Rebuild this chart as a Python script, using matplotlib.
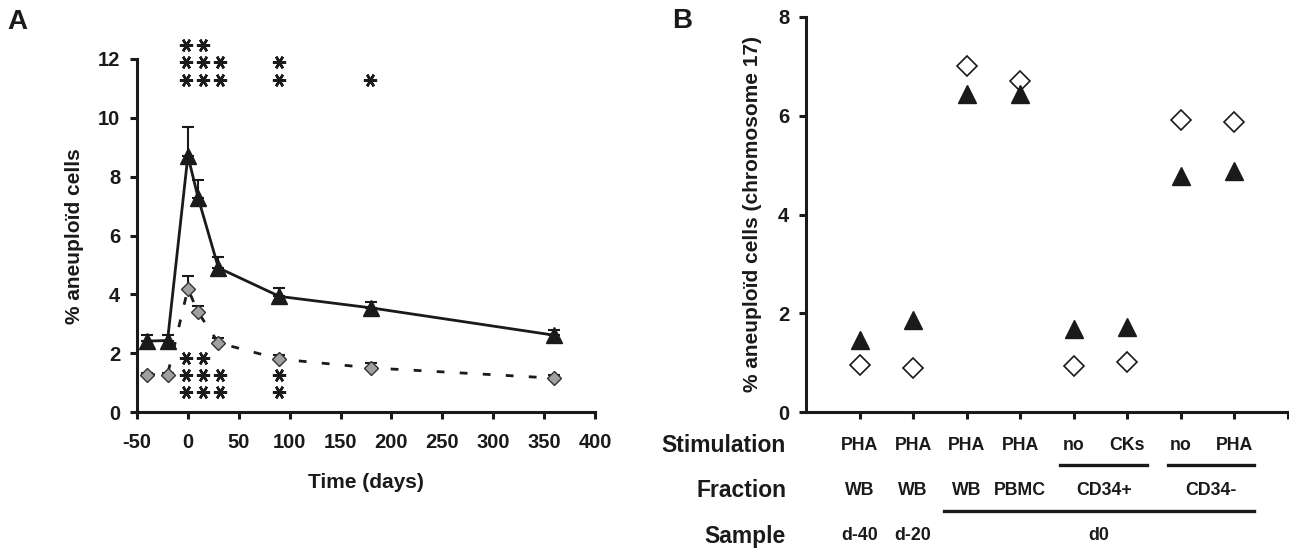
import matplotlib
matplotlib.use('Agg')
import matplotlib.pyplot as plt
import matplotlib.transforms as mtransforms

plt.rcParams['font.family'] = ['Liberation Sans', 'DejaVu Sans']
plt.rcParams['font.weight'] = 'bold'
plt.rcParams['axes.unicode_minus'] = False

# ---- panel A data ----
days = [-40, -20, 0, 10, 30, 90, 180, 360]
tri_a = [2.41, 2.43, 8.71, 7.29, 4.90, 3.93, 3.54, 2.61]
tri_a_err = [0.20, 0.20, 0.98, 0.59, 0.36, 0.29, 0.19, 0.18]
dia_a = [1.27, 1.27, 4.19, 3.39, 2.35, 1.80, 1.50, 1.15]
dia_a_err = [0.05, 0.05, 0.45, 0.21, 0.17, 0.15, 0.15, 0.10]

# significance stars: one list of x positions per row
stars_top_y = [12.48, 11.90, 11.29]
stars_top_x = [[-2, 15], [-2, 15, 31.5, 90], [-2, 15, 31.5, 90, 179]]
stars_bot_y = [1.84, 1.27, 0.68]
stars_bot_x = [[-2, 15], [-2, 15, 31.5, 90], [-2, 15, 31.5, 90]]

# ---- panel B data ----
cats = [1, 2, 3, 4, 5, 6, 7, 8]
tri_b = [1.46, 1.86, 6.45, 6.45, 1.69, 1.72, 4.78, 4.89]
dia_b = [0.96, 0.90, 7.00, 6.70, 0.94, 1.01, 5.92, 5.87]
stim_labels = ['PHA', 'PHA', 'PHA', 'PHA', 'no', 'CKs', 'no', 'PHA']
fraction_single = [(1, 'WB'), (2, 'WB'), (3, 'WB'), (4, 'PBMC')]
fraction_groups = [(5, 6, 'CD34+'), (7, 8, 'CD34-')]
sample_single = [(1, 'd-40'), (2, 'd-20')]
sample_groups = [(3, 8, 'd0')]

W, H = 1289, 548
INK = '#1a1a1a'
fig = plt.figure(figsize=(W / 100, H / 100), dpi=100)


def style_axes(ax):
    for s in ['top', 'right']:
        ax.spines[s].set_visible(False)
    for s in ['left', 'bottom']:
        ax.spines[s].set_linewidth(2.2)
        ax.spines[s].set_color(INK)
    ax.tick_params(width=2.2, length=5, color=INK, labelsize=14.5,
                   labelcolor=INK)


# ---------------- A ----------------
axA = fig.add_axes([137 / W, 1 - 412 / H, (595 - 137) / W, (412 - 59) / H])
style_axes(axA)
axA.tick_params(axis='y', pad=7)
axA.tick_params(axis='x', pad=10)

axA.errorbar(days, tri_a, yerr=[[0] * len(days), tri_a_err], fmt='none',
             ecolor=INK, elinewidth=1.5, capsize=4.3, capthick=1.5, zorder=2)
axA.errorbar(days, dia_a, yerr=[[0] * len(days), dia_a_err], fmt='none',
             ecolor=INK, elinewidth=1.5, capsize=4.3, capthick=1.5, zorder=2)
axA.plot(days, tri_a, color=INK, lw=2, marker='^', markersize=11,
         markerfacecolor=INK, markeredgecolor=INK, zorder=3)
axA.plot(days, dia_a, color=INK, lw=2, dashes=(2.8, 5.5), marker='D',
         markersize=7, markerfacecolor='#a0a0a0', markeredgecolor='#333333',
         markeredgewidth=1, zorder=3)

for y, xs in zip(stars_top_y + stars_bot_y, stars_top_x + stars_bot_x):
    axA.plot(xs, [y] * len(xs), linestyle='none', marker=(6, 2, 90),
             markersize=9.5, markeredgewidth=1.8, color=INK, clip_on=False)

axA.set_xlim(-50, 400)
axA.set_ylim(0, 12)
axA.set_xticks(range(-50, 401, 50))
axA.set_yticks(range(0, 13, 2))

fig.text(75 / W, 1 - 236 / H, '% aneuploïd cells', rotation=90, ha='center',
         va='center', fontsize=15, color=INK)
fig.text(366 / W, 1 - 482 / H, 'Time (days)', ha='center', va='center',
         fontsize=15, color=INK)
fig.text(17 / W, 1 - 22 / H, 'A', ha='center', va='center', fontsize=20,
         color=INK)

# ---------------- B ----------------
axB = fig.add_axes([806 / W, 1 - 412 / H, (1288 - 806) / W, (412 - 17) / H])
style_axes(axB)
axB.tick_params(axis='y', pad=7)
axB.plot(cats, dia_b, linestyle='none', marker='D', markersize=10,
         markerfacecolor='white', markeredgecolor=INK, markeredgewidth=1.2,
         zorder=3)
axB.plot(cats, tri_b, linestyle='none', marker='^', markersize=12.5,
         markerfacecolor=INK, markeredgecolor=INK, zorder=4)
axB.set_xlim(0, 9)
axB.set_ylim(0, 8)
axB.set_xticks(range(1, 10))
axB.set_xticklabels([])
axB.set_yticks(range(0, 9, 2))

fig.text(753 / W, 1 - 214 / H, '% aneuploïd cells (chromosome 17)', rotation=90,
         ha='center', va='center', fontsize=15, color=INK)
fig.text(682 / W, 1 - 21 / H, 'B', ha='center', va='center', fontsize=20,
         color=INK)

# category table below panel B
tr = mtransforms.blended_transform_factory(axB.transData, fig.transFigure)
row_stim, row_frac, row_samp = 1 - 446 / H, 1 - 490.5 / H, 1 - 536 / H
line_stim, line_frac = 1 - 465 / H, 1 - 510.7 / H

for y, name in [(row_stim, 'Stimulation'), (row_frac, 'Fraction'), (row_samp, 'Sample')]:
    fig.text(786 / W, y, name, ha='right', va='center', fontsize=16.5,
             color=INK)

for x, lab in zip(cats, stim_labels):
    axB.text(x, row_stim, lab, transform=tr, ha='center', va='center',
             fontsize=12.8, color=INK)
for x, lab in fraction_single:
    axB.text(x, row_frac, lab, transform=tr, ha='center', va='center',
             fontsize=12.8, color=INK)
for x0, x1, lab in fraction_groups:
    a, b = x0 - 0.25, x1 + 0.37
    axB.text((a + b) / 2, row_frac, lab, transform=tr, ha='center', va='center',
             fontsize=12.8, color=INK)
    axB.plot([a, b], [line_stim, line_stim], transform=tr, color=INK,
             lw=2.4, clip_on=False)
for x, lab in sample_single:
    axB.text(x, row_samp, lab, transform=tr, ha='center', va='center',
             fontsize=12.8, color=INK)
for x0, x1, lab in sample_groups:
    a, b = x0 - 0.43, x1 + 0.37
    axB.text((a + b) / 2, row_samp, lab, transform=tr, ha='center', va='center',
             fontsize=12.8, color=INK)
    axB.plot([a, b], [line_frac, line_frac], transform=tr, color=INK,
             lw=2.4, clip_on=False)

fig.savefig('out.png', dpi=100)
